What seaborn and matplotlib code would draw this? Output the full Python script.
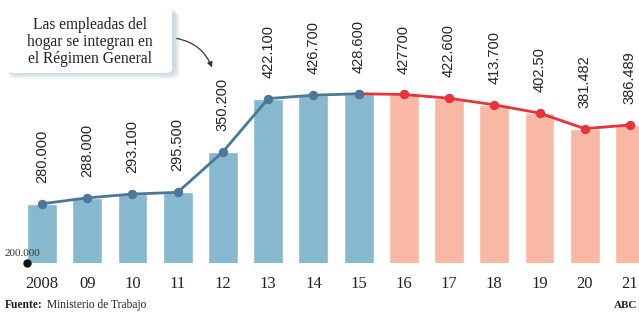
import matplotlib
matplotlib.use('Agg')
import matplotlib.pyplot as plt
from matplotlib.patches import FancyBboxPatch, FancyArrowPatch
import seaborn as sns
import pandas as pd

# datos
years = ['2008', '09', '10', '11', '12', '13', '14', '15', '16', '17', '18', '19', '20', '21']
values = [280000, 288000, 293100, 295500, 350200, 422100, 426700, 428600,
          427700, 422600, 413700, 402500, 381482, 386489]
labels = ['280.000', '288.000', '293.100', '295.500', '350.200', '422.100', '426.700',
          '428.600', '427700', '422.600', '413.700', '402.50', '381.482', '386.489']

blue_bar = '#86b8d0'
red_bar = '#f9b8a4'
blue_line = '#4b7896'
red_line = '#e8323c'

sns.set_style('white')
W, H = 639, 313
fig = plt.figure(figsize=(W / 100, H / 100), dpi=100)
ax = fig.add_axes([0, 50 / H, 1, 263 / H])

df = pd.DataFrame({'year': years, 'value': values})
pal = [blue_bar] * 8 + [red_bar] * 6
sns.barplot(data=df, x='year', y='value', hue='year', palette=pal, legend=False,
            width=0.66, saturation=1, ax=ax)

idx = list(range(len(years)))
sns.lineplot(x=idx[7:], y=values[7:], color=red_line, lw=2, marker='o', ms=6,
             mec=red_line, ax=ax)
sns.lineplot(x=idx[:8], y=values[:8], color=blue_line, lw=2, marker='o', ms=6,
             mec=blue_line, ax=ax)

for i, (v, lab) in enumerate(zip(values, labels)):
    ax.annotate(lab, (i, v), xytext=(0, 15), textcoords='offset points',
                rotation=90, ha='center', va='bottom', fontsize=10.5,
                family='Liberation Sans', color='#222222')

ax.set_xlim(-0.929, 13.2)
ax.set_ylim(200000, 555300)
for s in ax.spines.values():
    s.set_visible(False)
ax.set_yticks([])
ax.set_xlabel('')
ax.set_ylabel('')
ax.tick_params(axis='x', length=0, pad=9, labelsize=12, labelcolor='#222222')
for t in ax.get_xticklabels():
    t.set_family('Liberation Serif')

# base 200.000
ax.plot([-0.33], [200000], 'o', color='#111111', ms=5, clip_on=False, zorder=5)
fig.text(5 / W, 1 - 253 / H, '200.000', fontsize=8, color='#333333',
         family='Liberation Serif', va='center', ha='left')

# caja de nota con sombra suave
for k in range(6):
    d = k + 1
    sh = FancyBboxPatch(((7 + 2) / W, 1 - (73 + d) / H), (165 + d) / W, 66 / H,
                        boxstyle='round,pad=0,rounding_size=0.015',
                        transform=fig.transFigure, facecolor='#7f9db5',
                        edgecolor='none', alpha=0.07, zorder=9)
    fig.patches.append(sh)
box = FancyBboxPatch((7 / W, 1 - 73 / H), 165 / W, 66 / H,
                     boxstyle='round,pad=0,rounding_size=0.012',
                     transform=fig.transFigure, facecolor='white', edgecolor='none',
                     zorder=10)
fig.patches.append(box)
fig.text(90 / W, 1 - 42 / H, 'Las empleadas del\nhogar se integran en\nel Régimen General',
         ha='center', va='center', fontsize=11.2, family='Liberation Serif',
         color='#222222', linespacing=1.05, zorder=11)
fig.patches.append(FancyArrowPatch(
    (174 / W, 1 - 38 / H), (213 / W, 1 - 70 / H), transform=fig.transFigure,
    connectionstyle='arc3,rad=-0.3', arrowstyle='-|>,head_length=3,head_width=1.5',
    color='#333333', lw=0.9, zorder=11))

fig.text(5 / W, 1 - 305 / H, 'Fuente:', fontsize=8.3, weight='bold',
         family='Liberation Serif', color='#222222', va='center')
fig.text(47 / W, 1 - 305 / H, 'Ministerio de Trabajo', fontsize=8.3,
         family='Liberation Serif', color='#222222', va='center')
fig.text(637 / W, 1 - 305 / H, 'ABC', fontsize=8, weight='bold', ha='right',
         family='Liberation Serif', color='#222222', va='center')

fig.savefig('out.png', dpi=100)
